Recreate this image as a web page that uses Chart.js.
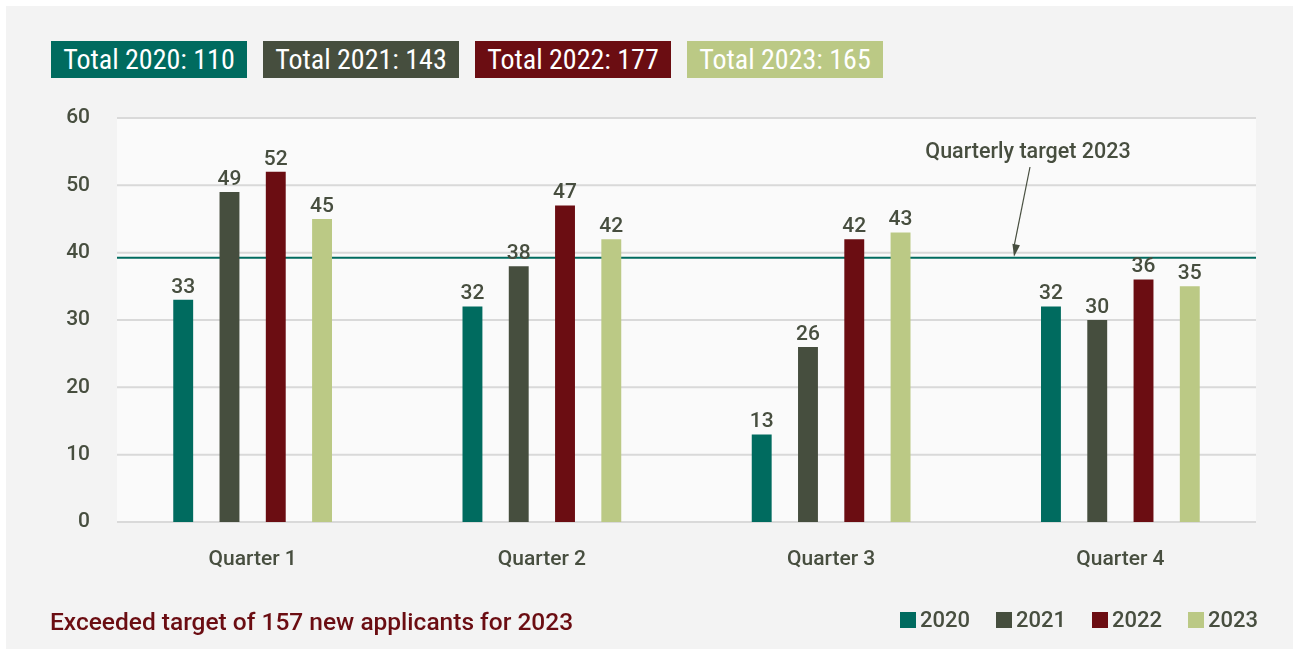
<!DOCTYPE html>
<html>
<head>
<meta charset="utf-8">
<script src="https://cdn.jsdelivr.net/npm/chart.js@4.4.1/dist/chart.umd.min.js"></script>
<style>
  html, body { margin: 0; padding: 0; background: #ffffff; }
  body { width: 1299px; height: 655px; position: relative; overflow: hidden; font-family: Roboto, "Noto Sans", sans-serif; }
  #panel { position: absolute; left: 6px; top: 6px; width: 1287px; height: 643px; background: #f3f3f3; }
  #totals { position: absolute; left: 51px; top: 41px; display: flex; gap: 16px; }
  #totals div { width: 196px; height: 37px; line-height: 38px; color: #fff; text-align: center;
    font-family: "Liberation Sans Narrow", "Roboto Condensed", Roboto, sans-serif; font-size: 28px; }
  #note { position: absolute; left: 50px; top: 607px; color: #6b0d12; font-size: 24.5px; font-weight: 500; }
  #legend { position: absolute; right: 41px; top: 607px; display: flex; gap: 26px; color: #474e3f; font-size: 22px; font-weight: 500; }
  #legend span.sw { display: inline-block; width: 16px; height: 16px; margin-right: 4px; vertical-align: -1px; }
  #wrap { position: absolute; left: 0; top: 0; width: 1299px; height: 655px; }
</style>
</head>
<body>
<div id="panel"></div>
<div id="totals"></div>
<div id="wrap"><canvas id="chart"></canvas></div>
<div id="note">Exceeded target of 157 new applicants for 2023</div>
<div id="legend"></div>
<script>
const categories = ['Quarter 1', 'Quarter 2', 'Quarter 3', 'Quarter 4'];
const years = ['2020', '2021', '2022', '2023'];
const values2020 = [33, 32, 13, 32];
const values2021 = [49, 38, 26, 30];
const values2022 = [52, 47, 42, 36];
const values2023 = [45, 42, 43, 35];
const yTicks = [0, 10, 20, 30, 40, 50, 60];
const annualTarget = 157;
const quarterlyTarget = annualTarget / 4;

const colors = ['#006b5f', '#464e3e', '#6b0d12', '#bbc985'];
const textColor = '#474e3f';
const gridColor = '#d9d9d9';
const inset = 9; // plot background is a little narrower than the category axis
const seriesValues = [values2020, values2021, values2022, values2023];

// totals boxes + legend
const totalsEl = document.getElementById('totals');
const legendEl = document.getElementById('legend');
years.forEach((y, i) => {
  const total = seriesValues[i].reduce((a, b) => a + b, 0);
  const d = document.createElement('div');
  d.style.background = colors[i];
  d.textContent = 'Total ' + y + ': ' + total;
  totalsEl.appendChild(d);
  const l = document.createElement('div');
  l.innerHTML = '<span class="sw" style="background:' + colors[i] + '"></span>' + y;
  legendEl.appendChild(l);
});

// background, gridlines and target line, all behind the bars
const plotBg = {
  id: 'plotBg',
  beforeDatasetsDraw(chart) {
    const { ctx, chartArea: a, scales } = chart;
    const l = a.left + inset, r = a.right - inset;
    ctx.save();
    ctx.fillStyle = '#fafafa';
    ctx.fillRect(l, a.top, r - l, a.bottom - a.top);
    ctx.strokeStyle = gridColor;
    ctx.lineWidth = 2;
    yTicks.forEach(v => {
      const y = scales.y.getPixelForValue(v);
      ctx.beginPath();
      ctx.moveTo(l, y);
      ctx.lineTo(r, y);
      ctx.stroke();
    });
    const ty = scales.y.getPixelForValue(quarterlyTarget);
    ctx.strokeStyle = '#006b5f';
    ctx.beginPath();
    ctx.moveTo(l, ty);
    ctx.lineTo(r, ty);
    ctx.stroke();
    ctx.restore();
  }
};

const targetNote = {
  id: 'targetNote',
  afterDatasetsDraw(chart) {
    const { ctx, scales } = chart;
    const y = scales.y.getPixelForValue(quarterlyTarget);
    const tx = 1028, ty = 153;
    ctx.save();
    ctx.fillStyle = textColor;
    ctx.font = '500 21.5px Roboto';
    ctx.textAlign = 'center';
    ctx.textBaseline = 'middle';
    ctx.fillText('Quarterly target 2023', tx, ty);
    const x0 = 1030, y0 = 167, x1 = 1014, y1 = y - 1;
    ctx.strokeStyle = textColor;
    ctx.lineWidth = 1.2;
    ctx.beginPath();
    ctx.moveTo(x0, y0);
    ctx.lineTo(x1, y1 - 10);
    ctx.stroke();
    const ang = Math.atan2(y1 - y0, x1 - x0);
    ctx.beginPath();
    ctx.moveTo(x1, y1);
    ctx.lineTo(x1 - 13 * Math.cos(ang - 0.3), y1 - 13 * Math.sin(ang - 0.3));
    ctx.lineTo(x1 - 13 * Math.cos(ang + 0.3), y1 - 13 * Math.sin(ang + 0.3));
    ctx.closePath();
    ctx.fill();
    ctx.restore();
  }
};

const barLabels = {
  id: 'barLabels',
  afterDatasetsDraw(chart) {
    const { ctx } = chart;
    ctx.save();
    ctx.fillStyle = textColor;
    ctx.font = '500 21px Roboto';
    ctx.textAlign = 'center';
    ctx.textBaseline = 'bottom';
    chart.data.datasets.forEach((ds, i) => {
      chart.getDatasetMeta(i).data.forEach((bar, j) => {
        ctx.fillText(ds.data[j], bar.x, bar.y - 2);
      });
    });
    ctx.restore();
  }
};

new Chart(document.getElementById('chart'), {
  type: 'bar',
  data: {
    labels: categories,
    datasets: years.map((y, i) => ({
      label: y,
      data: seriesValues[i],
      backgroundColor: colors[i],
      categoryPercentage: 0.64,
      barPercentage: 0.43
    }))
  },
  options: {
    responsive: true,
    maintainAspectRatio: false,
    animation: false,
    layout: { padding: { top: 118, right: 34, left: 0, bottom: 0 } },
    plugins: {
      legend: { display: false },
      tooltip: { enabled: false }
    },
    scales: {
      x: {
        grid: { display: false, drawTicks: false },
        border: { display: false },
        ticks: { color: textColor, font: { family: 'Roboto', size: 21, weight: 500 }, padding: 25 },
        afterFit(scale) { scale.height = 133; }
      },
      y: {
        min: 0,
        max: 60,
        afterBuildTicks(scale) { scale.ticks = yTicks.map(v => ({ value: v })); },
        grid: { display: false, drawTicks: false },
        border: { display: false },
        ticks: { color: textColor, font: { family: 'Roboto', size: 21, weight: 500 }, padding: 18 },
        afterFit(scale) { scale.width = 108; }
      }
    }
  },
  plugins: [plotBg, targetNote, barLabels]
});
</script>
</body>
</html>
